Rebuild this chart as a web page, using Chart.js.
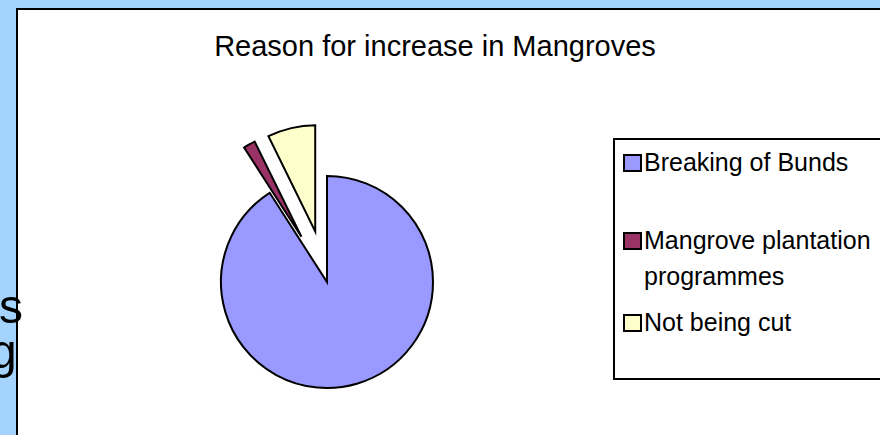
<!DOCTYPE html>
<html>
<head>
<meta charset="utf-8">
<title>Reason for increase in Mangroves</title>
<script src="https://cdn.jsdelivr.net/npm/chart.js@4.4.0/dist/chart.umd.min.js"></script>
<style>
    html, body { margin: 0; padding: 0; }
    body {
        width: 880px; height: 435px; overflow: hidden; position: relative;
        background: #a4d3fd;
        font-family: "Liberation Sans", Arial, sans-serif; color: #000;
    }
    #frame {
        position: absolute; left: 16px; top: 8px; width: 920px; height: 520px;
        background: #fff; border: 2px solid #000;
    }
    #title {
        position: absolute; left: 0; top: 32px; width: 870px;
        text-align: center; font-size: 29px; line-height: 29px;
    }
    #pie { position: absolute; left: 0; top: 0; }
    #legend {
        position: absolute; left: 613px; top: 138px; width: 320px; height: 238px;
        border: 2px solid #000; background: #fff;
    }
    .legend-item { position: absolute; left: 0; font-size: 25px; line-height: 36px; }
    .legend-item .swatch {
        position: absolute; left: 8px; top: 10px; width: 19px; height: 18px;
        box-sizing: border-box; border: 2px solid #000;
    }
    .legend-item .text { position: absolute; left: 29px; top: 0; width: 240px; }
    .side-text { position: absolute; font-size: 48px; line-height: 48px; z-index: 5; }
</style>
</head>
<body>
<div id="frame"></div>
<div id="title">Reason for increase in Mangroves</div>
<canvas id="pie" width="880" height="435"></canvas>
<div id="legend"></div>
<span class="side-text" style="left:-1px; top:283px;">s</span>
<span class="side-text" style="left:-10px; top:328px;">g</span>

<script>
// --- Data ---
const labels = ['Breaking of Bunds', 'Mangrove plantation programmes', 'Not being cut'];
const counts = [50, 1, 4];
const sliceColors = ['#9999ff', '#993366', '#ffffcc'];
const explode = [0, 52, 52];        // how far each slice is pulled out, px

// top of each legend row inside the box
const legendRowTops = [4, 82, 164];

// --- Exploded slices ---
// Chart.js's own "offset" also grows the radius of thin arcs, so the
// slices are pulled out here along their middle angle instead.
const explodePlugin = {
    id: 'explodeSlices',
    afterDatasetUpdate(chart, args) {
        args.meta.data.forEach((arc, i) => {
            const d = explode[i] || 0;
            const mid = (arc.startAngle + arc.endAngle) / 2;
            arc.x += Math.cos(mid) * d;
            arc.y += Math.sin(mid) * d;
        });
    }
};

new Chart(document.getElementById('pie'), {
    type: 'pie',
    data: {
        labels: labels,
        datasets: [{
            data: counts,
            backgroundColor: sliceColors,
            borderColor: '#000',
            borderWidth: 2,
            borderJoinStyle: 'miter',
            clip: false
        }]
    },
    options: {
        responsive: false,
        animation: false,
        events: [],
        radius: 106,
        layout: { padding: { left: 0, right: 226, top: 129, bottom: 0 } },
        plugins: {
            legend: { display: false },
            title: { display: false },
            tooltip: { enabled: false }
        }
    },
    plugins: [explodePlugin]
});

// --- Legend ---
const legend = document.getElementById('legend');
labels.forEach((label, i) => {
    const item = document.createElement('div');
    item.className = 'legend-item';
    item.style.top = legendRowTops[i] + 'px';
    item.innerHTML = `<span class="swatch" style="background:${sliceColors[i]}"></span><span class="text">${label}</span>`;
    legend.appendChild(item);
});
</script>
</body>
</html>
